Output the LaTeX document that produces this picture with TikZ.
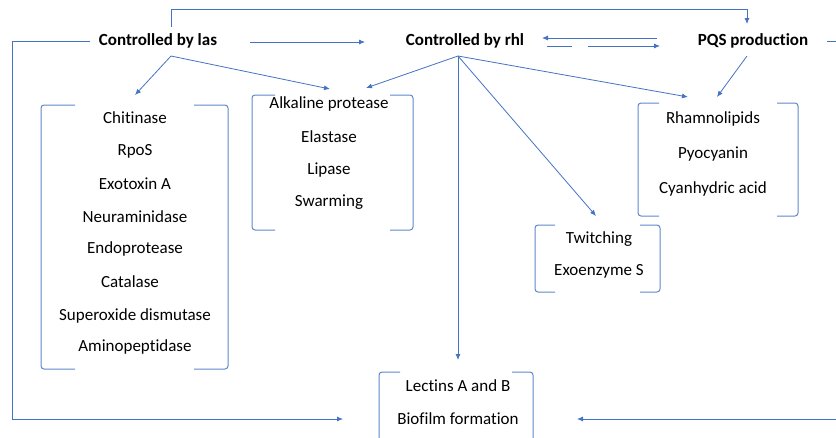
\documentclass[tikz,border=0pt]{standalone}
\usepackage{fontspec}
\setmainfont[RawFeature=-liga]{Carlito}
\usetikzlibrary{arrows.meta, positioning}
\definecolor{LineBlue}{RGB}{68, 114, 196}

\tikzset{
  item/.style={font=\fontsize{17}{20}\selectfont, inner sep=0pt},
  head/.style={font=\fontsize{17}{20}\selectfont\bfseries, inner sep=0pt},
  rail/.style={draw=LineBlue, line width=0.8pt},
  link/.style={rail, -{Latex[length=6pt, width=5pt]}},
  brk/.style={draw=LineBlue!85, line width=1pt, rounded corners=3pt}
}
% left x, right x, top y, bottom y, hook length
\newcommand{\bracketbox}[5]{
  \draw[brk] (#1+#5,#3) -- (#1,#3) -- (#1,#4) -- (#1+#5,#4);
  \draw[brk] (#2-#5,#3) -- (#2,#3) -- (#2,#4) -- (#2-#5,#4);
}

\begin{document}
\begin{tikzpicture}[x=1pt, y=-1pt]
    \useasboundingbox (0,0) rectangle (836,437);

    \node[head] (las) at (158,41) {Controlled by las};
    \node[head] (rhl) at (465,41) {Controlled by rhl};
    \node[head] (pqs) at (753,41) {PQS production};

    % las targets
    \node[item] (chit) at (135,118) {Chitinase};
    \node[item] (rpos) at (135,151) {RpoS};
    \node[item] (exoa) at (135,184) {Exotoxin A};
    \node[item] (neur) at (135,217) {Neuraminidase};
    \node[item] (endo) at (135,249) {Endoprotease};
    \node[item] (cata) at (130,282) {Catalase};
    \node[item] (supe) at (135,316) {Superoxide dismutase};
    \node[item] (amin) at (135,347) {Aminopeptidase};
    \bracketbox{41}{228}{105}{369}{34}

    % shared targets
    \node[item] (alka) at (329,104) {Alkaline protease};
    \node[item] (elas) at (329,137) {Elastase};
    \node[item] (lipa) at (329,170) {Lipase};
    \node[item] (swar) at (329,202) {Swarming};
    \bracketbox{252}{413}{95}{230}{23}

    % rhl and pqs targets
    \node[item] (rham) at (713,119) {Rhamnolipids};
    \node[item] (pyoc) at (713,154) {Pyocyanin};
    \node[item] (cyan) at (713,189) {Cyanhydric acid};
    \bracketbox{638}{798}{103}{216}{21}

    \node[item] (twit) at (599,239) {Twitching};
    \node[item] (exos) at (599,271) {Exoenzyme S};
    \bracketbox{535}{660}{225}{292}{20}

    \node[item] (lect) at (458,386) {Lectins A and B};
    \node[item] (biof) at (458,419) {Biofilm formation};
    \bracketbox{379}{533}{372}{460}{21}

    % connector ends
    \coordinate (lasTop) at (171,27);
    \coordinate (lasOut) at (171,56);
    \coordinate (lasW) at (90,41);
    \coordinate (lasE) at (250,42);
    \coordinate (rhlW) at (365,42);
    \coordinate (rhlOut) at (458,56);
    \coordinate (pqsTop) at (747,24);
    \coordinate (pqsOut) at (747,56);
    \coordinate (pqsE) at (827,41);
    \coordinate (toChit) at (135,95);
    \coordinate (toAlkL) at (330,89);
    \coordinate (toAlkR) at (366,88);
    \coordinate (toRhamL) at (688,97);
    \coordinate (toRhamR) at (717,97);
    \coordinate (toTwit) at (596,216);
    \coordinate (toLect) at (458,360);
    \coordinate (toBiofL) at (343,419);
    \coordinate (toBiofR) at (577,419);

    \draw[link] (lasTop) |- (747,9) -- (pqsTop);
    \draw[link] (lasW) -- (12,41) |- (toBiofL);
    \draw[link] (pqsE) -- (845,41) |- (toBiofR);
    \draw[link] (lasE) -- (rhlW);
    \draw[link] (657,38) -- (542,38);
    \draw[link, dash pattern=on 25pt off 16pt on 200pt] (547,46) -- (660,46);

    \draw[link] (lasOut) -- (toChit);
    \draw[link] (lasOut) -- (toAlkL);
    \draw[link] (rhlOut) -- (toAlkR);
    \draw[link] (rhlOut) -- (toLect);
    \draw[link] (rhlOut) -- (toTwit);
    \draw[link] (rhlOut) -- (toRhamL);
    \draw[link] (pqsOut) -- (toRhamR);
\end{tikzpicture}
\end{document}
